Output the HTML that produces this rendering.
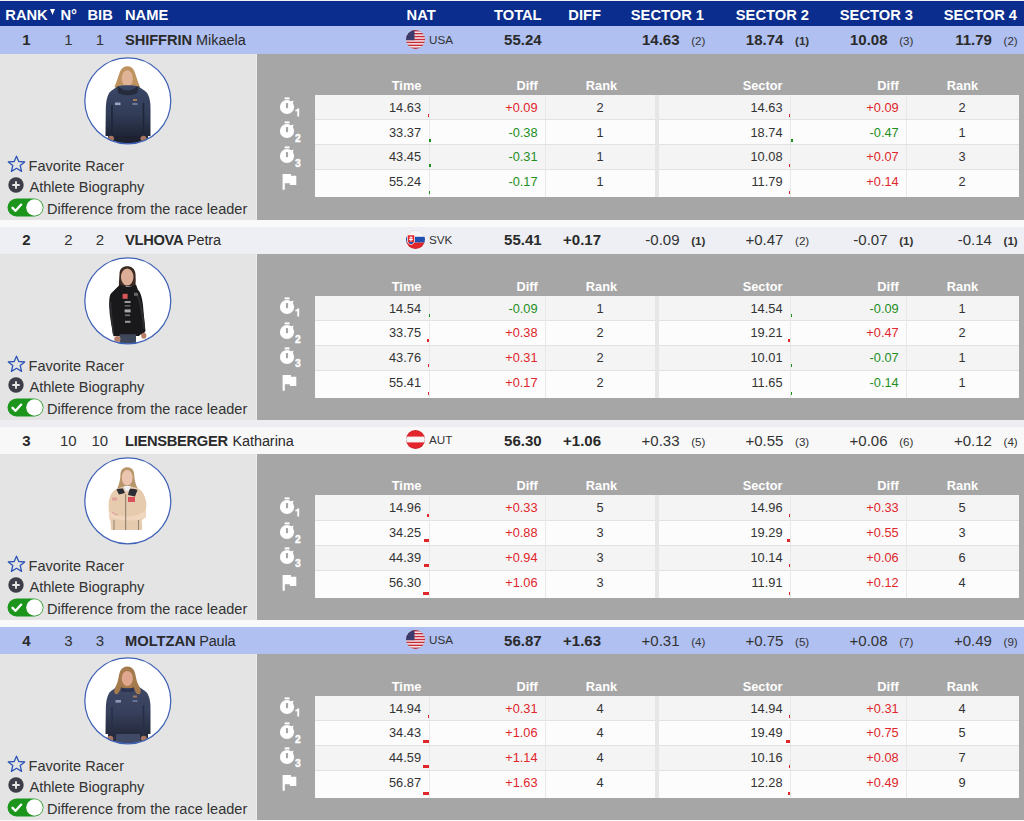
<!DOCTYPE html>
<html><head><meta charset="utf-8"><style>
html,body{margin:0;padding:0;}
body{width:1024px;height:821px;position:relative;overflow:hidden;background:#fafafa;font-family:"Liberation Sans",sans-serif;}
.t{position:absolute;white-space:nowrap;line-height:normal;}
.r{position:absolute;}
</style></head><body>
<div class="r" style="left:0.00px;top:0.00px;width:1024.00px;height:1.10px;background:#eef0f5;"></div>
<div class="r" style="left:0.00px;top:1.10px;width:1024.00px;height:25.00px;background:#0a2d8e;"></div>
<div class="t" style="left:5.30px;top:6.60px;font-size:14.7px;font-weight:bold;color:#fff;">RANK</div>
<svg class="r" style="left:49.6px;top:9.2px" width="5" height="6"><path d="M0 0H5L2.5 6Z" fill="#fff"/></svg>
<div class="t" style="left:60.50px;top:6.60px;font-size:14.7px;font-weight:bold;color:#fff;">N°</div>
<div class="t" style="left:87.50px;top:6.60px;font-size:14.7px;font-weight:bold;color:#fff;">BIB</div>
<div class="t" style="left:125.00px;top:6.60px;font-size:14.7px;font-weight:bold;color:#fff;">NAME</div>
<div class="t" style="left:406.60px;top:6.60px;font-size:14.7px;font-weight:bold;color:#fff;">NAT</div>
<div class="t" style="left:241.60px;width:300px;text-align:right;top:6.60px;font-size:14.7px;font-weight:bold;color:#fff;">TOTAL</div>
<div class="t" style="left:301.00px;width:300px;text-align:right;top:6.60px;font-size:14.7px;font-weight:bold;color:#fff;">DIFF</div>
<div class="t" style="left:404.00px;width:300px;text-align:right;top:6.60px;font-size:14.7px;font-weight:bold;color:#fff;">SECTOR 1</div>
<div class="t" style="left:509.00px;width:300px;text-align:right;top:6.60px;font-size:14.7px;font-weight:bold;color:#fff;">SECTOR 2</div>
<div class="t" style="left:613.00px;width:300px;text-align:right;top:6.60px;font-size:14.7px;font-weight:bold;color:#fff;">SECTOR 3</div>
<div class="t" style="left:717.00px;width:300px;text-align:right;top:6.60px;font-size:14.7px;font-weight:bold;color:#fff;">SECTOR 4</div>
<div class="r" style="left:0.00px;top:26.10px;width:1024.00px;height:27.75px;background:#b0c0f1;"></div>
<div class="r" style="left:0.00px;top:53.85px;width:257.00px;height:165.85px;background:#e4e4e4;"></div>
<div class="r" style="left:256.00px;top:53.85px;width:1.20px;height:165.85px;background:#ececec;"></div>
<div class="r" style="left:257.20px;top:53.85px;width:766.80px;height:165.85px;background:#a6a6a6;"></div>
<div class="r" style="left:0.00px;top:219.70px;width:1024.00px;height:7.30px;background:#f9f9fa;"></div>
<div class="t" style="left:-123.60px;width:300px;text-align:center;top:31.20px;font-size:15px;font-weight:bold;color:#2a2a2a;">1</div>
<div class="t" style="left:-81.70px;width:300px;text-align:center;top:31.20px;font-size:15px;color:#333;">1</div>
<div class="t" style="left:-50.20px;width:300px;text-align:center;top:31.20px;font-size:15px;color:#333;">1</div>
<div class="t" style="left:125.00px;top:32.20px;font-size:14.7px;font-weight:bold;color:#2a2a2a;letter-spacing:-0.1px">SHIFFRIN</div>
<div class="t" style="left:196.10px;top:32.20px;font-size:14.45px;color:#2a2a2a;letter-spacing:0px">Mikaela</div>
<svg class="r" style="left:406.30px;top:29.80px" width="19" height="19" viewBox="0 0 19 19"><defs><clipPath id="cUSA39"><circle cx="9.5" cy="9.5" r="9.5"/></clipPath></defs><g clip-path="url(#cUSA39)"><rect width="19" height="19" fill="#f4f4f4"/><rect x="0" y="0.00" width="19" height="1.46" fill="#c8283a"/><rect x="0" y="2.92" width="19" height="1.46" fill="#c8283a"/><rect x="0" y="5.85" width="19" height="1.46" fill="#c8283a"/><rect x="0" y="8.77" width="19" height="1.46" fill="#c8283a"/><rect x="0" y="11.69" width="19" height="1.46" fill="#c8283a"/><rect x="0" y="14.62" width="19" height="1.46" fill="#c8283a"/><rect x="0" y="17.54" width="19" height="1.46" fill="#c8283a"/><rect width="8.5" height="10.2" fill="#3c3b6e"/></g><circle cx="9.5" cy="9.5" r="9.2" fill="none" stroke="rgba(0,0,0,.12)" stroke-width=".6"/></svg>
<div class="t" style="left:429.00px;top:32.60px;font-size:11.7px;color:#333;">USA</div>
<div class="t" style="left:241.60px;width:300px;text-align:right;top:31.20px;font-size:15px;font-weight:bold;color:#2a2a2a;">55.24</div>
<div class="t" style="left:405.30px;width:300px;text-align:right;top:34.20px;font-size:11.6px;color:#333;">(2)</div>
<div class="t" style="left:379.50px;width:300px;text-align:right;top:31.20px;font-size:15px;font-weight:bold;color:#2a2a2a;">14.63</div>
<div class="t" style="left:509.20px;width:300px;text-align:right;top:34.20px;font-size:11.6px;font-weight:bold;color:#333;">(1)</div>
<div class="t" style="left:483.40px;width:300px;text-align:right;top:31.20px;font-size:15px;font-weight:bold;color:#2a2a2a;">18.74</div>
<div class="t" style="left:613.30px;width:300px;text-align:right;top:34.20px;font-size:11.6px;color:#333;">(3)</div>
<div class="t" style="left:587.50px;width:300px;text-align:right;top:31.20px;font-size:15px;font-weight:bold;color:#2a2a2a;">10.08</div>
<div class="t" style="left:717.70px;width:300px;text-align:right;top:34.20px;font-size:11.6px;color:#333;">(2)</div>
<div class="t" style="left:691.90px;width:300px;text-align:right;top:31.20px;font-size:15px;font-weight:bold;color:#2a2a2a;">11.79</div>
<svg class="r" style="left:84.20px;top:57.30px" width="87.6" height="87.6" viewBox="0 0 87.6 87.6"><defs><clipPath id="ph0"><circle cx="43.8" cy="43.8" r="42.8"/></clipPath></defs><circle cx="43.8" cy="43.8" r="43.0" fill="#fff"/><g clip-path="url(#ph0)"><defs><linearGradient id="gj0" x1="0" y1="0" x2="0" y2="1"><stop offset="0" stop-color="#3a4767"/><stop offset=".55" stop-color="#323d58"/><stop offset="1" stop-color="#1f2536"/></linearGradient></defs><path d="M36 14.5C37.5 11 40.5 9.3 43.3 9.3C46.5 9.3 49.2 11 50.5 14.5C52 18.5 53.5 24 56 30L52 33H35L30.5 30C33 24 34.5 18.5 36 14.5Z" fill="#bf935f"/><ellipse cx="43.3" cy="21.5" rx="5.6" ry="8.2" fill="#e0b296"/><path d="M33.5 29.5C37 28.5 40 28.3 43.5 28.3C47 28.3 50.5 28.5 54.5 29.5L61 34C65 37 66.5 43 66.5 52L66.5 79H21.5L21.8 52C22 43 23.5 37 27 34Z" fill="url(#gj0)"/><path d="M33.5 29C37 31.5 40 33.5 43.5 33.5C47 33.5 50.5 31.5 54.5 29L53.5 36C50 37.5 47 38.2 43.5 38.2C40 38.2 37 37.5 34 36Z" fill="#262c3c"/><path d="M28 48V79M59.5 46V79" stroke="#20263a" stroke-width="1.6"/><path d="M24 79H64V88H24Z" fill="#1d2130"/><ellipse cx="27" cy="81.5" rx="3" ry="2.8" fill="#a87660"/><ellipse cx="59.5" cy="81.5" rx="3" ry="2.8" fill="#a87660"/><rect x="31" y="45.5" width="5.5" height="2.6" fill="#9aa3c0"/><rect x="49" y="42" width="4" height="2" fill="#a07a5a"/><rect x="48.5" y="46" width="5" height="2" fill="#6f789a"/></g><circle cx="43.8" cy="43.8" r="43.0" fill="none" stroke="#4062b6" stroke-width="1.25"/></svg>
<svg class="r" style="left:7.00px;top:154.90px" width="19" height="18" viewBox="0 0 19 18"><path d="M9.5 1.2L11.8 6.5L17.7 6.9L13.2 10.6L14.6 16.4L9.5 13.3L4.4 16.4L5.8 10.6L1.3 6.9L7.2 6.5Z" fill="none" stroke="#2c53b5" stroke-width="1.3" stroke-linejoin="round"/></svg>
<div class="t" style="left:28.60px;top:157.60px;font-size:14.55px;color:#333;">Favorite Racer</div>
<svg class="r" style="left:8.20px;top:177.10px" width="16" height="16" viewBox="0 0 16 16"><circle cx="8" cy="8" r="7.7" fill="#3c3d48"/><path d="M8 4.3V11.7M4.3 8H11.7" stroke="#e6e6e6" stroke-width="1.9"/></svg>
<div class="t" style="left:29.50px;top:179.30px;font-size:14.55px;color:#333;">Athlete Biography</div>
<svg class="r" style="left:7.20px;top:197.70px" width="37" height="19" viewBox="0 0 37 19"><rect x="0.5" y="0.5" width="36" height="18" rx="9" fill="#1b951b"/><circle cx="27.5" cy="9.5" r="8.3" fill="#fff"/><path d="M5.5 9.8L8.6 12.8L14.2 6.6" fill="none" stroke="#fff" stroke-width="2.3" stroke-linecap="round" stroke-linejoin="round"/></svg>
<div class="t" style="left:47.00px;top:201.10px;font-size:14.55px;color:#333;">Difference from the race leader</div>
<div class="t" style="left:121.40px;width:300px;text-align:right;top:77.80px;font-size:12.8px;font-weight:bold;color:#fff;">Time</div>
<div class="t" style="left:237.90px;width:300px;text-align:right;top:77.80px;font-size:12.8px;font-weight:bold;color:#fff;">Diff</div>
<div class="t" style="left:451.50px;width:300px;text-align:center;top:77.80px;font-size:12.8px;font-weight:bold;color:#fff;">Rank</div>
<div class="t" style="left:482.50px;width:300px;text-align:right;top:77.80px;font-size:12.8px;font-weight:bold;color:#fff;">Sector</div>
<div class="t" style="left:598.70px;width:300px;text-align:right;top:77.80px;font-size:12.8px;font-weight:bold;color:#fff;">Diff</div>
<div class="t" style="left:812.50px;width:300px;text-align:center;top:77.80px;font-size:12.8px;font-weight:bold;color:#fff;">Rank</div>
<div class="r" style="left:314.50px;top:94.80px;width:340.00px;height:24.80px;background:#f4f4f4;"></div>
<div class="r" style="left:659.00px;top:94.80px;width:359.70px;height:24.80px;background:#f4f4f4;"></div>
<div class="r" style="left:428.90px;top:94.80px;width:1.00px;height:24.80px;background:#e8e8e8;"></div>
<div class="r" style="left:545.00px;top:94.80px;width:1.00px;height:24.80px;background:#e8e8e8;"></div>
<div class="r" style="left:790.00px;top:94.80px;width:1.00px;height:24.80px;background:#e8e8e8;"></div>
<div class="r" style="left:906.00px;top:94.80px;width:1.00px;height:24.80px;background:#e8e8e8;"></div>
<div class="t" style="left:121.00px;width:300px;text-align:right;top:99.70px;font-size:12.8px;color:#333;">14.63</div>
<div class="t" style="left:237.60px;width:300px;text-align:right;top:99.70px;font-size:12.8px;color:#e0262b;">+0.09</div>
<div class="t" style="left:450.00px;width:300px;text-align:center;top:99.70px;font-size:12.8px;color:#333;">2</div>
<div class="t" style="left:482.50px;width:300px;text-align:right;top:99.70px;font-size:12.8px;color:#333;">14.63</div>
<div class="t" style="left:598.70px;width:300px;text-align:right;top:99.70px;font-size:12.8px;color:#e0262b;">+0.09</div>
<div class="t" style="left:812.00px;width:300px;text-align:center;top:99.70px;font-size:12.8px;color:#333;">2</div>
<div class="r" style="left:428.00px;top:113.60px;width:1.20px;height:3.00px;background:#e0262b;"></div>
<div class="r" style="left:789.30px;top:113.60px;width:1.20px;height:3.00px;background:#e0262b;"></div>
<div class="r" style="left:314.50px;top:119.60px;width:340.00px;height:25.00px;background:#fcfcfc;"></div>
<div class="r" style="left:659.00px;top:119.60px;width:359.70px;height:25.00px;background:#fcfcfc;"></div>
<div class="r" style="left:314.50px;top:119.10px;width:340.00px;height:1.00px;background:#e2e2e2;"></div>
<div class="r" style="left:659.00px;top:119.10px;width:359.70px;height:1.00px;background:#e2e2e2;"></div>
<div class="r" style="left:428.90px;top:119.60px;width:1.00px;height:25.00px;background:#e8e8e8;"></div>
<div class="r" style="left:545.00px;top:119.60px;width:1.00px;height:25.00px;background:#e8e8e8;"></div>
<div class="r" style="left:790.00px;top:119.60px;width:1.00px;height:25.00px;background:#e8e8e8;"></div>
<div class="r" style="left:906.00px;top:119.60px;width:1.00px;height:25.00px;background:#e8e8e8;"></div>
<div class="t" style="left:121.00px;width:300px;text-align:right;top:124.50px;font-size:12.8px;color:#333;">33.37</div>
<div class="t" style="left:237.60px;width:300px;text-align:right;top:124.50px;font-size:12.8px;color:#1f8f1f;">-0.38</div>
<div class="t" style="left:450.00px;width:300px;text-align:center;top:124.50px;font-size:12.8px;color:#333;">1</div>
<div class="t" style="left:482.50px;width:300px;text-align:right;top:124.50px;font-size:12.8px;color:#333;">18.74</div>
<div class="t" style="left:598.70px;width:300px;text-align:right;top:124.50px;font-size:12.8px;color:#1f8f1f;">-0.47</div>
<div class="t" style="left:812.00px;width:300px;text-align:center;top:124.50px;font-size:12.8px;color:#333;">1</div>
<div class="r" style="left:429.20px;top:138.60px;width:2.09px;height:3.00px;background:#1f8f1f;"></div>
<div class="r" style="left:790.50px;top:138.60px;width:2.58px;height:3.00px;background:#1f8f1f;"></div>
<div class="r" style="left:314.50px;top:144.60px;width:340.00px;height:25.00px;background:#f4f4f4;"></div>
<div class="r" style="left:659.00px;top:144.60px;width:359.70px;height:25.00px;background:#f4f4f4;"></div>
<div class="r" style="left:314.50px;top:144.10px;width:340.00px;height:1.00px;background:#e2e2e2;"></div>
<div class="r" style="left:659.00px;top:144.10px;width:359.70px;height:1.00px;background:#e2e2e2;"></div>
<div class="r" style="left:428.90px;top:144.60px;width:1.00px;height:25.00px;background:#e8e8e8;"></div>
<div class="r" style="left:545.00px;top:144.60px;width:1.00px;height:25.00px;background:#e8e8e8;"></div>
<div class="r" style="left:790.00px;top:144.60px;width:1.00px;height:25.00px;background:#e8e8e8;"></div>
<div class="r" style="left:906.00px;top:144.60px;width:1.00px;height:25.00px;background:#e8e8e8;"></div>
<div class="t" style="left:121.00px;width:300px;text-align:right;top:149.20px;font-size:12.8px;color:#333;">43.45</div>
<div class="t" style="left:237.60px;width:300px;text-align:right;top:149.20px;font-size:12.8px;color:#1f8f1f;">-0.31</div>
<div class="t" style="left:450.00px;width:300px;text-align:center;top:149.20px;font-size:12.8px;color:#333;">1</div>
<div class="t" style="left:482.50px;width:300px;text-align:right;top:149.20px;font-size:12.8px;color:#333;">10.08</div>
<div class="t" style="left:598.70px;width:300px;text-align:right;top:149.20px;font-size:12.8px;color:#e0262b;">+0.07</div>
<div class="t" style="left:812.00px;width:300px;text-align:center;top:149.20px;font-size:12.8px;color:#333;">3</div>
<div class="r" style="left:429.20px;top:163.60px;width:1.71px;height:3.00px;background:#1f8f1f;"></div>
<div class="r" style="left:789.30px;top:163.60px;width:1.20px;height:3.00px;background:#e0262b;"></div>
<div class="r" style="left:314.50px;top:169.60px;width:340.00px;height:27.50px;background:#fcfcfc;"></div>
<div class="r" style="left:659.00px;top:169.60px;width:359.70px;height:27.50px;background:#fcfcfc;"></div>
<div class="r" style="left:314.50px;top:169.10px;width:340.00px;height:1.00px;background:#e2e2e2;"></div>
<div class="r" style="left:659.00px;top:169.10px;width:359.70px;height:1.00px;background:#e2e2e2;"></div>
<div class="r" style="left:428.90px;top:169.60px;width:1.00px;height:27.50px;background:#e8e8e8;"></div>
<div class="r" style="left:545.00px;top:169.60px;width:1.00px;height:27.50px;background:#e8e8e8;"></div>
<div class="r" style="left:790.00px;top:169.60px;width:1.00px;height:27.50px;background:#e8e8e8;"></div>
<div class="r" style="left:906.00px;top:169.60px;width:1.00px;height:27.50px;background:#e8e8e8;"></div>
<div class="t" style="left:121.00px;width:300px;text-align:right;top:174.40px;font-size:12.8px;color:#333;">55.24</div>
<div class="t" style="left:237.60px;width:300px;text-align:right;top:174.40px;font-size:12.8px;color:#1f8f1f;">-0.17</div>
<div class="t" style="left:450.00px;width:300px;text-align:center;top:174.40px;font-size:12.8px;color:#333;">1</div>
<div class="t" style="left:482.50px;width:300px;text-align:right;top:174.40px;font-size:12.8px;color:#333;">11.79</div>
<div class="t" style="left:598.70px;width:300px;text-align:right;top:174.40px;font-size:12.8px;color:#e0262b;">+0.14</div>
<div class="t" style="left:812.00px;width:300px;text-align:center;top:174.40px;font-size:12.8px;color:#333;">2</div>
<div class="r" style="left:429.20px;top:191.10px;width:1.20px;height:3.00px;background:#1f8f1f;"></div>
<div class="r" style="left:789.30px;top:191.10px;width:1.20px;height:3.00px;background:#e0262b;"></div>
<div class="r" style="left:654.50px;top:94.80px;width:4.50px;height:102.30px;background:#e6e6e6;"></div>
<svg class="r" style="left:277.90px;top:95.50px" width="24" height="22" viewBox="0 0 24 22"><rect x="6.7" y="1.4" width="4.8" height="2" fill="#fff"/><circle cx="9" cy="11" r="7.1" fill="#fff"/><rect x="7.9" y="7.1" width="2.2" height="5.1" rx=".6" fill="#a6a6a6"/><path d="M12.8 5.6L15.6 4.4L14.8 7.6Z" fill="#fff"/><path d="M19.4 12.6H21.2V20.5H19.3V15.2H17.2V13.9C18.4 13.9 19.1 13.4 19.4 12.6Z" fill="#fff"/></svg>
<svg class="r" style="left:277.90px;top:120.30px" width="24" height="22" viewBox="0 0 24 22"><rect x="6.7" y="1.4" width="4.8" height="2" fill="#fff"/><circle cx="9" cy="11" r="7.1" fill="#fff"/><rect x="7.9" y="7.1" width="2.2" height="5.1" rx=".6" fill="#a6a6a6"/><path d="M12.8 5.6L15.6 4.4L14.8 7.6Z" fill="#fff"/></svg>
<div class="t" style="left:294.90px;top:132.90px;font-size:10.4px;font-weight:bold;color:#fff;-webkit-text-stroke:0.35px #fff">2</div>
<svg class="r" style="left:277.90px;top:144.90px" width="24" height="22" viewBox="0 0 24 22"><rect x="6.7" y="1.4" width="4.8" height="2" fill="#fff"/><circle cx="9" cy="11" r="7.1" fill="#fff"/><rect x="7.9" y="7.1" width="2.2" height="5.1" rx=".6" fill="#a6a6a6"/><path d="M12.8 5.6L15.6 4.4L14.8 7.6Z" fill="#fff"/></svg>
<div class="t" style="left:294.90px;top:157.50px;font-size:10.4px;font-weight:bold;color:#fff;-webkit-text-stroke:0.35px #fff">3</div>
<svg class="r" style="left:280px;top:171.10px" width="20" height="20" viewBox="280 171.1 20 20"><path d="M282.6 174H291V175.9H296.3V185H289.9V183.3H284.8V189.9H282.6Z" fill="#fff"/></svg>
<div class="r" style="left:0.00px;top:227.00px;width:1024.00px;height:26.85px;background:#eeeff4;"></div>
<div class="r" style="left:0.00px;top:253.85px;width:257.00px;height:165.85px;background:#e4e4e4;"></div>
<div class="r" style="left:256.00px;top:253.85px;width:1.20px;height:165.85px;background:#ececec;"></div>
<div class="r" style="left:257.20px;top:253.85px;width:766.80px;height:165.85px;background:#a6a6a6;"></div>
<div class="r" style="left:0.00px;top:419.70px;width:1024.00px;height:7.30px;background:#ededf2;"></div>
<div class="t" style="left:-123.60px;width:300px;text-align:center;top:231.20px;font-size:15px;font-weight:bold;color:#2a2a2a;">2</div>
<div class="t" style="left:-81.70px;width:300px;text-align:center;top:231.20px;font-size:15px;color:#333;">2</div>
<div class="t" style="left:-50.20px;width:300px;text-align:center;top:231.20px;font-size:15px;color:#333;">2</div>
<div class="t" style="left:125.00px;top:232.20px;font-size:14.7px;font-weight:bold;color:#2a2a2a;letter-spacing:-0.32px">VLHOVA</div>
<div class="t" style="left:187.00px;top:232.20px;font-size:14.45px;color:#2a2a2a;letter-spacing:-0.1px">Petra</div>
<svg class="r" style="left:406.30px;top:229.80px" width="19" height="19" viewBox="0 0 19 19"><defs><clipPath id="cSVK239"><circle cx="9.5" cy="9.5" r="9.5"/></clipPath></defs><g clip-path="url(#cSVK239)"><rect width="19" height="6.8" fill="#f6f6f6"/><rect y="6.8" width="19" height="5.8" fill="#1f4fb0"/><rect y="12.6" width="19" height="6.4" fill="#e2262c"/><path d="M1 4.6H9V10.6C9 12.9 7.2 14.3 5 15.1C2.8 14.3 1 12.9 1 10.6Z" fill="#fff"/><path d="M1.7 5.3H8.3V10.5C8.3 12.4 6.8 13.6 5 14.3C3.2 13.6 1.7 12.4 1.7 10.5Z" fill="#e2262c"/><path d="M2.6 12.6C3.4 11.6 4.2 11.4 5 12C5.8 11.4 6.6 11.6 7.4 12.6C6.8 13.3 5.9 13.8 5 14.2C4.1 13.8 3.2 13.3 2.6 12.6Z" fill="#1f4fb0"/><path d="M5 6.3V11.6M3.4 7.8H6.6M3 9.6H7" stroke="#fff" stroke-width="1"/></g><circle cx="9.5" cy="9.5" r="9.2" fill="none" stroke="rgba(0,0,0,.12)" stroke-width=".6"/></svg>
<div class="t" style="left:429.00px;top:232.60px;font-size:11.7px;color:#333;">SVK</div>
<div class="t" style="left:241.60px;width:300px;text-align:right;top:231.20px;font-size:15px;font-weight:bold;color:#2a2a2a;">55.41</div>
<div class="t" style="left:301.00px;width:300px;text-align:right;top:231.20px;font-size:15px;font-weight:bold;color:#2a2a2a;">+0.17</div>
<div class="t" style="left:405.30px;width:300px;text-align:right;top:234.20px;font-size:11.6px;font-weight:bold;color:#333;">(1)</div>
<div class="t" style="left:379.50px;width:300px;text-align:right;top:231.20px;font-size:15px;color:#333;">-0.09</div>
<div class="t" style="left:509.20px;width:300px;text-align:right;top:234.20px;font-size:11.6px;color:#333;">(2)</div>
<div class="t" style="left:483.40px;width:300px;text-align:right;top:231.20px;font-size:15px;color:#333;">+0.47</div>
<div class="t" style="left:613.30px;width:300px;text-align:right;top:234.20px;font-size:11.6px;font-weight:bold;color:#333;">(1)</div>
<div class="t" style="left:587.50px;width:300px;text-align:right;top:231.20px;font-size:15px;color:#333;">-0.07</div>
<div class="t" style="left:717.70px;width:300px;text-align:right;top:234.20px;font-size:11.6px;font-weight:bold;color:#333;">(1)</div>
<div class="t" style="left:691.90px;width:300px;text-align:right;top:231.20px;font-size:15px;color:#333;">-0.14</div>
<svg class="r" style="left:84.20px;top:257.30px" width="87.6" height="87.6" viewBox="0 0 87.6 87.6"><defs><clipPath id="ph1"><circle cx="43.8" cy="43.8" r="42.8"/></clipPath></defs><circle cx="43.8" cy="43.8" r="43.0" fill="#fff"/><g clip-path="url(#ph1)"><path d="M35.5 17C35.5 11.5 39 9.2 43.2 9.2C47.5 9.2 51.2 11.8 51.5 17C51.8 21 51.8 25 51.5 29H35C34.8 25 35.3 21 35.5 17Z" fill="#3a2a22"/><ellipse cx="43.2" cy="20" rx="6.3" ry="8.6" fill="#dcae98"/><path d="M36 27.5C39 29 42 29.5 44.5 29.5C47.5 29.5 50 28.5 52 27.5L54 33C57 35 59 44 59.5 54L61.5 74L59 77.5H56.5L55 79H31L29.5 79.3C28 70 25.5 60 25.2 50C25 42 25.8 38 27 36.5Z" fill="#19191c"/><path d="M53 38C56.5 44 58.5 55 60 72" stroke="#2c2c30" stroke-width="2.2" fill="none"/><path d="M26.5 45C27 55 28 66 29.5 77" stroke="#2e2e33" stroke-width="1.6" fill="none"/><path d="M35.5 77.2H52V88H35.5Z" fill="#3f475b"/><rect x="38.6" y="36.8" width="5" height="5" fill="#d9555a"/><rect x="50" y="35.8" width="4" height="3" fill="#666"/><rect x="40.6" y="44" width="6" height="2" fill="#9a9a9a"/><rect x="40.8" y="48" width="5.5" height="1.6" fill="#666"/><rect x="40.6" y="52.4" width="6" height="3" fill="#aaa"/><rect x="41" y="57.5" width="5" height="1.6" fill="#777"/><rect x="41" y="63.8" width="5.5" height="2" fill="#999"/><ellipse cx="33.4" cy="82" rx="3.2" ry="3" fill="#b9806c"/><ellipse cx="59.8" cy="78.7" rx="2.6" ry="3" fill="#b9806c"/></g><circle cx="43.8" cy="43.8" r="43.0" fill="none" stroke="#4062b6" stroke-width="1.25"/></svg>
<svg class="r" style="left:7.00px;top:354.90px" width="19" height="18" viewBox="0 0 19 18"><path d="M9.5 1.2L11.8 6.5L17.7 6.9L13.2 10.6L14.6 16.4L9.5 13.3L4.4 16.4L5.8 10.6L1.3 6.9L7.2 6.5Z" fill="none" stroke="#2c53b5" stroke-width="1.3" stroke-linejoin="round"/></svg>
<div class="t" style="left:28.60px;top:357.60px;font-size:14.55px;color:#333;">Favorite Racer</div>
<svg class="r" style="left:8.20px;top:377.10px" width="16" height="16" viewBox="0 0 16 16"><circle cx="8" cy="8" r="7.7" fill="#3c3d48"/><path d="M8 4.3V11.7M4.3 8H11.7" stroke="#e6e6e6" stroke-width="1.9"/></svg>
<div class="t" style="left:29.50px;top:379.30px;font-size:14.55px;color:#333;">Athlete Biography</div>
<svg class="r" style="left:7.20px;top:397.70px" width="37" height="19" viewBox="0 0 37 19"><rect x="0.5" y="0.5" width="36" height="18" rx="9" fill="#1b951b"/><circle cx="27.5" cy="9.5" r="8.3" fill="#fff"/><path d="M5.5 9.8L8.6 12.8L14.2 6.6" fill="none" stroke="#fff" stroke-width="2.3" stroke-linecap="round" stroke-linejoin="round"/></svg>
<div class="t" style="left:47.00px;top:401.10px;font-size:14.55px;color:#333;">Difference from the race leader</div>
<div class="t" style="left:121.40px;width:300px;text-align:right;top:278.60px;font-size:12.8px;font-weight:bold;color:#fff;">Time</div>
<div class="t" style="left:237.90px;width:300px;text-align:right;top:278.60px;font-size:12.8px;font-weight:bold;color:#fff;">Diff</div>
<div class="t" style="left:451.50px;width:300px;text-align:center;top:278.60px;font-size:12.8px;font-weight:bold;color:#fff;">Rank</div>
<div class="t" style="left:482.50px;width:300px;text-align:right;top:278.60px;font-size:12.8px;font-weight:bold;color:#fff;">Sector</div>
<div class="t" style="left:598.70px;width:300px;text-align:right;top:278.60px;font-size:12.8px;font-weight:bold;color:#fff;">Diff</div>
<div class="t" style="left:812.50px;width:300px;text-align:center;top:278.60px;font-size:12.8px;font-weight:bold;color:#fff;">Rank</div>
<div class="r" style="left:314.50px;top:295.60px;width:340.00px;height:24.80px;background:#f4f4f4;"></div>
<div class="r" style="left:659.00px;top:295.60px;width:359.70px;height:24.80px;background:#f4f4f4;"></div>
<div class="r" style="left:428.90px;top:295.60px;width:1.00px;height:24.80px;background:#e8e8e8;"></div>
<div class="r" style="left:545.00px;top:295.60px;width:1.00px;height:24.80px;background:#e8e8e8;"></div>
<div class="r" style="left:790.00px;top:295.60px;width:1.00px;height:24.80px;background:#e8e8e8;"></div>
<div class="r" style="left:906.00px;top:295.60px;width:1.00px;height:24.80px;background:#e8e8e8;"></div>
<div class="t" style="left:121.00px;width:300px;text-align:right;top:300.50px;font-size:12.8px;color:#333;">14.54</div>
<div class="t" style="left:237.60px;width:300px;text-align:right;top:300.50px;font-size:12.8px;color:#1f8f1f;">-0.09</div>
<div class="t" style="left:450.00px;width:300px;text-align:center;top:300.50px;font-size:12.8px;color:#333;">1</div>
<div class="t" style="left:482.50px;width:300px;text-align:right;top:300.50px;font-size:12.8px;color:#333;">14.54</div>
<div class="t" style="left:598.70px;width:300px;text-align:right;top:300.50px;font-size:12.8px;color:#1f8f1f;">-0.09</div>
<div class="t" style="left:812.00px;width:300px;text-align:center;top:300.50px;font-size:12.8px;color:#333;">1</div>
<div class="r" style="left:429.20px;top:314.40px;width:1.20px;height:3.00px;background:#1f8f1f;"></div>
<div class="r" style="left:790.50px;top:314.40px;width:1.20px;height:3.00px;background:#1f8f1f;"></div>
<div class="r" style="left:314.50px;top:320.40px;width:340.00px;height:25.00px;background:#fcfcfc;"></div>
<div class="r" style="left:659.00px;top:320.40px;width:359.70px;height:25.00px;background:#fcfcfc;"></div>
<div class="r" style="left:314.50px;top:319.90px;width:340.00px;height:1.00px;background:#e2e2e2;"></div>
<div class="r" style="left:659.00px;top:319.90px;width:359.70px;height:1.00px;background:#e2e2e2;"></div>
<div class="r" style="left:428.90px;top:320.40px;width:1.00px;height:25.00px;background:#e8e8e8;"></div>
<div class="r" style="left:545.00px;top:320.40px;width:1.00px;height:25.00px;background:#e8e8e8;"></div>
<div class="r" style="left:790.00px;top:320.40px;width:1.00px;height:25.00px;background:#e8e8e8;"></div>
<div class="r" style="left:906.00px;top:320.40px;width:1.00px;height:25.00px;background:#e8e8e8;"></div>
<div class="t" style="left:121.00px;width:300px;text-align:right;top:325.30px;font-size:12.8px;color:#333;">33.75</div>
<div class="t" style="left:237.60px;width:300px;text-align:right;top:325.30px;font-size:12.8px;color:#e0262b;">+0.38</div>
<div class="t" style="left:450.00px;width:300px;text-align:center;top:325.30px;font-size:12.8px;color:#333;">2</div>
<div class="t" style="left:482.50px;width:300px;text-align:right;top:325.30px;font-size:12.8px;color:#333;">19.21</div>
<div class="t" style="left:598.70px;width:300px;text-align:right;top:325.30px;font-size:12.8px;color:#e0262b;">+0.47</div>
<div class="t" style="left:812.00px;width:300px;text-align:center;top:325.30px;font-size:12.8px;color:#333;">2</div>
<div class="r" style="left:427.11px;top:339.40px;width:2.09px;height:3.00px;background:#e0262b;"></div>
<div class="r" style="left:787.91px;top:339.40px;width:2.58px;height:3.00px;background:#e0262b;"></div>
<div class="r" style="left:314.50px;top:345.40px;width:340.00px;height:25.00px;background:#f4f4f4;"></div>
<div class="r" style="left:659.00px;top:345.40px;width:359.70px;height:25.00px;background:#f4f4f4;"></div>
<div class="r" style="left:314.50px;top:344.90px;width:340.00px;height:1.00px;background:#e2e2e2;"></div>
<div class="r" style="left:659.00px;top:344.90px;width:359.70px;height:1.00px;background:#e2e2e2;"></div>
<div class="r" style="left:428.90px;top:345.40px;width:1.00px;height:25.00px;background:#e8e8e8;"></div>
<div class="r" style="left:545.00px;top:345.40px;width:1.00px;height:25.00px;background:#e8e8e8;"></div>
<div class="r" style="left:790.00px;top:345.40px;width:1.00px;height:25.00px;background:#e8e8e8;"></div>
<div class="r" style="left:906.00px;top:345.40px;width:1.00px;height:25.00px;background:#e8e8e8;"></div>
<div class="t" style="left:121.00px;width:300px;text-align:right;top:350.00px;font-size:12.8px;color:#333;">43.76</div>
<div class="t" style="left:237.60px;width:300px;text-align:right;top:350.00px;font-size:12.8px;color:#e0262b;">+0.31</div>
<div class="t" style="left:450.00px;width:300px;text-align:center;top:350.00px;font-size:12.8px;color:#333;">2</div>
<div class="t" style="left:482.50px;width:300px;text-align:right;top:350.00px;font-size:12.8px;color:#333;">10.01</div>
<div class="t" style="left:598.70px;width:300px;text-align:right;top:350.00px;font-size:12.8px;color:#1f8f1f;">-0.07</div>
<div class="t" style="left:812.00px;width:300px;text-align:center;top:350.00px;font-size:12.8px;color:#333;">1</div>
<div class="r" style="left:427.50px;top:364.40px;width:1.71px;height:3.00px;background:#e0262b;"></div>
<div class="r" style="left:790.50px;top:364.40px;width:1.20px;height:3.00px;background:#1f8f1f;"></div>
<div class="r" style="left:314.50px;top:370.40px;width:340.00px;height:27.50px;background:#fcfcfc;"></div>
<div class="r" style="left:659.00px;top:370.40px;width:359.70px;height:27.50px;background:#fcfcfc;"></div>
<div class="r" style="left:314.50px;top:369.90px;width:340.00px;height:1.00px;background:#e2e2e2;"></div>
<div class="r" style="left:659.00px;top:369.90px;width:359.70px;height:1.00px;background:#e2e2e2;"></div>
<div class="r" style="left:428.90px;top:370.40px;width:1.00px;height:27.50px;background:#e8e8e8;"></div>
<div class="r" style="left:545.00px;top:370.40px;width:1.00px;height:27.50px;background:#e8e8e8;"></div>
<div class="r" style="left:790.00px;top:370.40px;width:1.00px;height:27.50px;background:#e8e8e8;"></div>
<div class="r" style="left:906.00px;top:370.40px;width:1.00px;height:27.50px;background:#e8e8e8;"></div>
<div class="t" style="left:121.00px;width:300px;text-align:right;top:375.20px;font-size:12.8px;color:#333;">55.41</div>
<div class="t" style="left:237.60px;width:300px;text-align:right;top:375.20px;font-size:12.8px;color:#e0262b;">+0.17</div>
<div class="t" style="left:450.00px;width:300px;text-align:center;top:375.20px;font-size:12.8px;color:#333;">2</div>
<div class="t" style="left:482.50px;width:300px;text-align:right;top:375.20px;font-size:12.8px;color:#333;">11.65</div>
<div class="t" style="left:598.70px;width:300px;text-align:right;top:375.20px;font-size:12.8px;color:#1f8f1f;">-0.14</div>
<div class="t" style="left:812.00px;width:300px;text-align:center;top:375.20px;font-size:12.8px;color:#333;">1</div>
<div class="r" style="left:428.00px;top:391.90px;width:1.20px;height:3.00px;background:#e0262b;"></div>
<div class="r" style="left:790.50px;top:391.90px;width:1.20px;height:3.00px;background:#1f8f1f;"></div>
<div class="r" style="left:654.50px;top:295.60px;width:4.50px;height:102.30px;background:#e6e6e6;"></div>
<svg class="r" style="left:277.90px;top:296.30px" width="24" height="22" viewBox="0 0 24 22"><rect x="6.7" y="1.4" width="4.8" height="2" fill="#fff"/><circle cx="9" cy="11" r="7.1" fill="#fff"/><rect x="7.9" y="7.1" width="2.2" height="5.1" rx=".6" fill="#a6a6a6"/><path d="M12.8 5.6L15.6 4.4L14.8 7.6Z" fill="#fff"/><path d="M19.4 12.6H21.2V20.5H19.3V15.2H17.2V13.9C18.4 13.9 19.1 13.4 19.4 12.6Z" fill="#fff"/></svg>
<svg class="r" style="left:277.90px;top:321.10px" width="24" height="22" viewBox="0 0 24 22"><rect x="6.7" y="1.4" width="4.8" height="2" fill="#fff"/><circle cx="9" cy="11" r="7.1" fill="#fff"/><rect x="7.9" y="7.1" width="2.2" height="5.1" rx=".6" fill="#a6a6a6"/><path d="M12.8 5.6L15.6 4.4L14.8 7.6Z" fill="#fff"/></svg>
<div class="t" style="left:294.90px;top:333.70px;font-size:10.4px;font-weight:bold;color:#fff;-webkit-text-stroke:0.35px #fff">2</div>
<svg class="r" style="left:277.90px;top:345.70px" width="24" height="22" viewBox="0 0 24 22"><rect x="6.7" y="1.4" width="4.8" height="2" fill="#fff"/><circle cx="9" cy="11" r="7.1" fill="#fff"/><rect x="7.9" y="7.1" width="2.2" height="5.1" rx=".6" fill="#a6a6a6"/><path d="M12.8 5.6L15.6 4.4L14.8 7.6Z" fill="#fff"/></svg>
<div class="t" style="left:294.90px;top:358.30px;font-size:10.4px;font-weight:bold;color:#fff;-webkit-text-stroke:0.35px #fff">3</div>
<svg class="r" style="left:280px;top:371.90px" width="20" height="20" viewBox="280 171.1 20 20"><path d="M282.6 174H291V175.9H296.3V185H289.9V183.3H284.8V189.9H282.6Z" fill="#fff"/></svg>
<div class="r" style="left:0.00px;top:427.00px;width:1024.00px;height:26.85px;background:#f8f8f9;"></div>
<div class="r" style="left:0.00px;top:453.85px;width:257.00px;height:165.85px;background:#e4e4e4;"></div>
<div class="r" style="left:256.00px;top:453.85px;width:1.20px;height:165.85px;background:#ececec;"></div>
<div class="r" style="left:257.20px;top:453.85px;width:766.80px;height:165.85px;background:#a6a6a6;"></div>
<div class="r" style="left:0.00px;top:619.70px;width:1024.00px;height:7.50px;background:#f9f9fa;"></div>
<div class="t" style="left:-123.60px;width:300px;text-align:center;top:431.70px;font-size:15px;font-weight:bold;color:#2a2a2a;">3</div>
<div class="t" style="left:-81.70px;width:300px;text-align:center;top:431.70px;font-size:15px;color:#333;">10</div>
<div class="t" style="left:-50.20px;width:300px;text-align:center;top:431.70px;font-size:15px;color:#333;">10</div>
<div class="t" style="left:125.00px;top:432.70px;font-size:14.7px;font-weight:bold;color:#2a2a2a;letter-spacing:-0.31px">LIENSBERGER</div>
<div class="t" style="left:232.40px;top:432.70px;font-size:14.45px;color:#2a2a2a;letter-spacing:-0.05px">Katharina</div>
<svg class="r" style="left:406.30px;top:429.80px" width="19" height="19" viewBox="0 0 19 19"><defs><clipPath id="cAUT439"><circle cx="9.5" cy="9.5" r="9.5"/></clipPath></defs><g clip-path="url(#cAUT439)"><rect width="19" height="19" fill="#e2262c"/><rect y="6.6" width="19" height="5.8" fill="#f6f6f6"/></g><circle cx="9.5" cy="9.5" r="9.2" fill="none" stroke="rgba(0,0,0,.12)" stroke-width=".6"/></svg>
<div class="t" style="left:429.00px;top:432.60px;font-size:11.7px;color:#333;">AUT</div>
<div class="t" style="left:241.60px;width:300px;text-align:right;top:431.70px;font-size:15px;font-weight:bold;color:#2a2a2a;">56.30</div>
<div class="t" style="left:301.00px;width:300px;text-align:right;top:431.70px;font-size:15px;font-weight:bold;color:#2a2a2a;">+1.06</div>
<div class="t" style="left:405.30px;width:300px;text-align:right;top:434.70px;font-size:11.6px;color:#333;">(5)</div>
<div class="t" style="left:379.50px;width:300px;text-align:right;top:431.70px;font-size:15px;color:#333;">+0.33</div>
<div class="t" style="left:509.20px;width:300px;text-align:right;top:434.70px;font-size:11.6px;color:#333;">(3)</div>
<div class="t" style="left:483.40px;width:300px;text-align:right;top:431.70px;font-size:15px;color:#333;">+0.55</div>
<div class="t" style="left:613.30px;width:300px;text-align:right;top:434.70px;font-size:11.6px;color:#333;">(6)</div>
<div class="t" style="left:587.50px;width:300px;text-align:right;top:431.70px;font-size:15px;color:#333;">+0.06</div>
<div class="t" style="left:717.70px;width:300px;text-align:right;top:434.70px;font-size:11.6px;color:#333;">(4)</div>
<div class="t" style="left:691.90px;width:300px;text-align:right;top:431.70px;font-size:15px;color:#333;">+0.12</div>
<svg class="r" style="left:84.20px;top:457.30px" width="87.6" height="87.6" viewBox="0 0 87.6 87.6"><defs><clipPath id="ph2"><circle cx="43.8" cy="43.8" r="42.8"/></clipPath></defs><circle cx="43.8" cy="43.8" r="43.0" fill="#fff"/><g clip-path="url(#ph2)"><path d="M36.5 17.5C36.5 12.5 39.5 10.3 43.2 10.3C47 10.3 50 12.5 50.2 17.5C50.5 23 51.5 28 54 32H33C35 28 36.3 23 36.5 17.5Z" fill="#b8976c"/><ellipse cx="43.2" cy="20.8" rx="5.4" ry="7.8" fill="#ecc5b0"/><path d="M34 31.5C37 30 40 29.5 43.5 29.5C47 29.5 50.5 30 54 31.5C58 33 61 38 62.4 46L61.5 60.6L57.8 63L58.2 73H27.2L26.3 63L25 60.6L24.6 46C25.5 38 29 33 34 31.5Z" fill="#e6cbae"/><path d="M32.4 32.5C34.5 31.5 37 31.3 39 31.6L41 36L35 37.5Z" fill="#2c2c34"/><path d="M53.5 33C51 31.8 48 31.5 45.5 32L44 38L51 39.5Z" fill="#2c2c34"/><path d="M39.6 29H46.8L45 33.8H41.5Z" fill="#eef0f4"/><rect x="44" y="40" width="7" height="5" fill="#d8505a"/><path d="M25 54C31 58 39 60 46 59.5C53 59 58 56.5 62 52.5L61.5 60.6C56 63 49 64 42 63.5C35 63 29 62 25 60.6Z" fill="#f0d6bc"/><path d="M41.7 37V73" stroke="#7d6e62" stroke-width=".9"/><path d="M30 63V73M54.5 63V73" stroke="#8a7868" stroke-width=".9"/><rect x="28" y="40.5" width="5" height="3" fill="#e3a09c"/><path d="M28 55C30 57 32 58 34 58" stroke="#e0a0a0" stroke-width="1.2" fill="none"/></g><circle cx="43.8" cy="43.8" r="43.0" fill="none" stroke="#4062b6" stroke-width="1.25"/></svg>
<svg class="r" style="left:7.00px;top:554.90px" width="19" height="18" viewBox="0 0 19 18"><path d="M9.5 1.2L11.8 6.5L17.7 6.9L13.2 10.6L14.6 16.4L9.5 13.3L4.4 16.4L5.8 10.6L1.3 6.9L7.2 6.5Z" fill="none" stroke="#2c53b5" stroke-width="1.3" stroke-linejoin="round"/></svg>
<div class="t" style="left:28.60px;top:557.60px;font-size:14.55px;color:#333;">Favorite Racer</div>
<svg class="r" style="left:8.20px;top:577.10px" width="16" height="16" viewBox="0 0 16 16"><circle cx="8" cy="8" r="7.7" fill="#3c3d48"/><path d="M8 4.3V11.7M4.3 8H11.7" stroke="#e6e6e6" stroke-width="1.9"/></svg>
<div class="t" style="left:29.50px;top:579.30px;font-size:14.55px;color:#333;">Athlete Biography</div>
<svg class="r" style="left:7.20px;top:597.70px" width="37" height="19" viewBox="0 0 37 19"><rect x="0.5" y="0.5" width="36" height="18" rx="9" fill="#1b951b"/><circle cx="27.5" cy="9.5" r="8.3" fill="#fff"/><path d="M5.5 9.8L8.6 12.8L14.2 6.6" fill="none" stroke="#fff" stroke-width="2.3" stroke-linecap="round" stroke-linejoin="round"/></svg>
<div class="t" style="left:47.00px;top:601.10px;font-size:14.55px;color:#333;">Difference from the race leader</div>
<div class="t" style="left:121.40px;width:300px;text-align:right;top:478.40px;font-size:12.8px;font-weight:bold;color:#fff;">Time</div>
<div class="t" style="left:237.90px;width:300px;text-align:right;top:478.40px;font-size:12.8px;font-weight:bold;color:#fff;">Diff</div>
<div class="t" style="left:451.50px;width:300px;text-align:center;top:478.40px;font-size:12.8px;font-weight:bold;color:#fff;">Rank</div>
<div class="t" style="left:482.50px;width:300px;text-align:right;top:478.40px;font-size:12.8px;font-weight:bold;color:#fff;">Sector</div>
<div class="t" style="left:598.70px;width:300px;text-align:right;top:478.40px;font-size:12.8px;font-weight:bold;color:#fff;">Diff</div>
<div class="t" style="left:812.50px;width:300px;text-align:center;top:478.40px;font-size:12.8px;font-weight:bold;color:#fff;">Rank</div>
<div class="r" style="left:314.50px;top:495.40px;width:340.00px;height:24.80px;background:#f4f4f4;"></div>
<div class="r" style="left:659.00px;top:495.40px;width:359.70px;height:24.80px;background:#f4f4f4;"></div>
<div class="r" style="left:428.90px;top:495.40px;width:1.00px;height:24.80px;background:#e8e8e8;"></div>
<div class="r" style="left:545.00px;top:495.40px;width:1.00px;height:24.80px;background:#e8e8e8;"></div>
<div class="r" style="left:790.00px;top:495.40px;width:1.00px;height:24.80px;background:#e8e8e8;"></div>
<div class="r" style="left:906.00px;top:495.40px;width:1.00px;height:24.80px;background:#e8e8e8;"></div>
<div class="t" style="left:121.00px;width:300px;text-align:right;top:500.30px;font-size:12.8px;color:#333;">14.96</div>
<div class="t" style="left:237.60px;width:300px;text-align:right;top:500.30px;font-size:12.8px;color:#e0262b;">+0.33</div>
<div class="t" style="left:450.00px;width:300px;text-align:center;top:500.30px;font-size:12.8px;color:#333;">5</div>
<div class="t" style="left:482.50px;width:300px;text-align:right;top:500.30px;font-size:12.8px;color:#333;">14.96</div>
<div class="t" style="left:598.70px;width:300px;text-align:right;top:500.30px;font-size:12.8px;color:#e0262b;">+0.33</div>
<div class="t" style="left:812.00px;width:300px;text-align:center;top:500.30px;font-size:12.8px;color:#333;">5</div>
<div class="r" style="left:427.38px;top:514.20px;width:1.82px;height:3.00px;background:#e0262b;"></div>
<div class="r" style="left:788.68px;top:514.20px;width:1.82px;height:3.00px;background:#e0262b;"></div>
<div class="r" style="left:314.50px;top:520.20px;width:340.00px;height:25.00px;background:#fcfcfc;"></div>
<div class="r" style="left:659.00px;top:520.20px;width:359.70px;height:25.00px;background:#fcfcfc;"></div>
<div class="r" style="left:314.50px;top:519.70px;width:340.00px;height:1.00px;background:#e2e2e2;"></div>
<div class="r" style="left:659.00px;top:519.70px;width:359.70px;height:1.00px;background:#e2e2e2;"></div>
<div class="r" style="left:428.90px;top:520.20px;width:1.00px;height:25.00px;background:#e8e8e8;"></div>
<div class="r" style="left:545.00px;top:520.20px;width:1.00px;height:25.00px;background:#e8e8e8;"></div>
<div class="r" style="left:790.00px;top:520.20px;width:1.00px;height:25.00px;background:#e8e8e8;"></div>
<div class="r" style="left:906.00px;top:520.20px;width:1.00px;height:25.00px;background:#e8e8e8;"></div>
<div class="t" style="left:121.00px;width:300px;text-align:right;top:525.10px;font-size:12.8px;color:#333;">34.25</div>
<div class="t" style="left:237.60px;width:300px;text-align:right;top:525.10px;font-size:12.8px;color:#e0262b;">+0.88</div>
<div class="t" style="left:450.00px;width:300px;text-align:center;top:525.10px;font-size:12.8px;color:#333;">3</div>
<div class="t" style="left:482.50px;width:300px;text-align:right;top:525.10px;font-size:12.8px;color:#333;">19.29</div>
<div class="t" style="left:598.70px;width:300px;text-align:right;top:525.10px;font-size:12.8px;color:#e0262b;">+0.55</div>
<div class="t" style="left:812.00px;width:300px;text-align:center;top:525.10px;font-size:12.8px;color:#333;">3</div>
<div class="r" style="left:424.36px;top:539.20px;width:4.84px;height:3.00px;background:#e0262b;"></div>
<div class="r" style="left:787.48px;top:539.20px;width:3.03px;height:3.00px;background:#e0262b;"></div>
<div class="r" style="left:314.50px;top:545.20px;width:340.00px;height:25.00px;background:#f4f4f4;"></div>
<div class="r" style="left:659.00px;top:545.20px;width:359.70px;height:25.00px;background:#f4f4f4;"></div>
<div class="r" style="left:314.50px;top:544.70px;width:340.00px;height:1.00px;background:#e2e2e2;"></div>
<div class="r" style="left:659.00px;top:544.70px;width:359.70px;height:1.00px;background:#e2e2e2;"></div>
<div class="r" style="left:428.90px;top:545.20px;width:1.00px;height:25.00px;background:#e8e8e8;"></div>
<div class="r" style="left:545.00px;top:545.20px;width:1.00px;height:25.00px;background:#e8e8e8;"></div>
<div class="r" style="left:790.00px;top:545.20px;width:1.00px;height:25.00px;background:#e8e8e8;"></div>
<div class="r" style="left:906.00px;top:545.20px;width:1.00px;height:25.00px;background:#e8e8e8;"></div>
<div class="t" style="left:121.00px;width:300px;text-align:right;top:549.80px;font-size:12.8px;color:#333;">44.39</div>
<div class="t" style="left:237.60px;width:300px;text-align:right;top:549.80px;font-size:12.8px;color:#e0262b;">+0.94</div>
<div class="t" style="left:450.00px;width:300px;text-align:center;top:549.80px;font-size:12.8px;color:#333;">3</div>
<div class="t" style="left:482.50px;width:300px;text-align:right;top:549.80px;font-size:12.8px;color:#333;">10.14</div>
<div class="t" style="left:598.70px;width:300px;text-align:right;top:549.80px;font-size:12.8px;color:#e0262b;">+0.06</div>
<div class="t" style="left:812.00px;width:300px;text-align:center;top:549.80px;font-size:12.8px;color:#333;">6</div>
<div class="r" style="left:424.03px;top:564.20px;width:5.17px;height:3.00px;background:#e0262b;"></div>
<div class="r" style="left:789.30px;top:564.20px;width:1.20px;height:3.00px;background:#e0262b;"></div>
<div class="r" style="left:314.50px;top:570.20px;width:340.00px;height:27.50px;background:#fcfcfc;"></div>
<div class="r" style="left:659.00px;top:570.20px;width:359.70px;height:27.50px;background:#fcfcfc;"></div>
<div class="r" style="left:314.50px;top:569.70px;width:340.00px;height:1.00px;background:#e2e2e2;"></div>
<div class="r" style="left:659.00px;top:569.70px;width:359.70px;height:1.00px;background:#e2e2e2;"></div>
<div class="r" style="left:428.90px;top:570.20px;width:1.00px;height:27.50px;background:#e8e8e8;"></div>
<div class="r" style="left:545.00px;top:570.20px;width:1.00px;height:27.50px;background:#e8e8e8;"></div>
<div class="r" style="left:790.00px;top:570.20px;width:1.00px;height:27.50px;background:#e8e8e8;"></div>
<div class="r" style="left:906.00px;top:570.20px;width:1.00px;height:27.50px;background:#e8e8e8;"></div>
<div class="t" style="left:121.00px;width:300px;text-align:right;top:575.00px;font-size:12.8px;color:#333;">56.30</div>
<div class="t" style="left:237.60px;width:300px;text-align:right;top:575.00px;font-size:12.8px;color:#e0262b;">+1.06</div>
<div class="t" style="left:450.00px;width:300px;text-align:center;top:575.00px;font-size:12.8px;color:#333;">3</div>
<div class="t" style="left:482.50px;width:300px;text-align:right;top:575.00px;font-size:12.8px;color:#333;">11.91</div>
<div class="t" style="left:598.70px;width:300px;text-align:right;top:575.00px;font-size:12.8px;color:#e0262b;">+0.12</div>
<div class="t" style="left:812.00px;width:300px;text-align:center;top:575.00px;font-size:12.8px;color:#333;">4</div>
<div class="r" style="left:423.37px;top:591.70px;width:5.83px;height:3.00px;background:#e0262b;"></div>
<div class="r" style="left:789.30px;top:591.70px;width:1.20px;height:3.00px;background:#e0262b;"></div>
<div class="r" style="left:654.50px;top:495.40px;width:4.50px;height:102.30px;background:#e6e6e6;"></div>
<svg class="r" style="left:277.90px;top:496.10px" width="24" height="22" viewBox="0 0 24 22"><rect x="6.7" y="1.4" width="4.8" height="2" fill="#fff"/><circle cx="9" cy="11" r="7.1" fill="#fff"/><rect x="7.9" y="7.1" width="2.2" height="5.1" rx=".6" fill="#a6a6a6"/><path d="M12.8 5.6L15.6 4.4L14.8 7.6Z" fill="#fff"/><path d="M19.4 12.6H21.2V20.5H19.3V15.2H17.2V13.9C18.4 13.9 19.1 13.4 19.4 12.6Z" fill="#fff"/></svg>
<svg class="r" style="left:277.90px;top:520.90px" width="24" height="22" viewBox="0 0 24 22"><rect x="6.7" y="1.4" width="4.8" height="2" fill="#fff"/><circle cx="9" cy="11" r="7.1" fill="#fff"/><rect x="7.9" y="7.1" width="2.2" height="5.1" rx=".6" fill="#a6a6a6"/><path d="M12.8 5.6L15.6 4.4L14.8 7.6Z" fill="#fff"/></svg>
<div class="t" style="left:294.90px;top:533.50px;font-size:10.4px;font-weight:bold;color:#fff;-webkit-text-stroke:0.35px #fff">2</div>
<svg class="r" style="left:277.90px;top:545.50px" width="24" height="22" viewBox="0 0 24 22"><rect x="6.7" y="1.4" width="4.8" height="2" fill="#fff"/><circle cx="9" cy="11" r="7.1" fill="#fff"/><rect x="7.9" y="7.1" width="2.2" height="5.1" rx=".6" fill="#a6a6a6"/><path d="M12.8 5.6L15.6 4.4L14.8 7.6Z" fill="#fff"/></svg>
<div class="t" style="left:294.90px;top:558.10px;font-size:10.4px;font-weight:bold;color:#fff;-webkit-text-stroke:0.35px #fff">3</div>
<svg class="r" style="left:280px;top:571.70px" width="20" height="20" viewBox="280 171.1 20 20"><path d="M282.6 174H291V175.9H296.3V185H289.9V183.3H284.8V189.9H282.6Z" fill="#fff"/></svg>
<div class="r" style="left:0.00px;top:627.20px;width:1024.00px;height:26.65px;background:#b0c0f1;"></div>
<div class="r" style="left:0.00px;top:653.85px;width:257.00px;height:165.85px;background:#e4e4e4;"></div>
<div class="r" style="left:256.00px;top:653.85px;width:1.20px;height:165.85px;background:#ececec;"></div>
<div class="r" style="left:257.20px;top:653.85px;width:766.80px;height:165.85px;background:#a6a6a6;"></div>
<div class="t" style="left:-123.60px;width:300px;text-align:center;top:632.20px;font-size:15px;font-weight:bold;color:#2a2a2a;">4</div>
<div class="t" style="left:-81.70px;width:300px;text-align:center;top:632.20px;font-size:15px;color:#333;">3</div>
<div class="t" style="left:-50.20px;width:300px;text-align:center;top:632.20px;font-size:15px;color:#333;">3</div>
<div class="t" style="left:125.00px;top:633.20px;font-size:14.7px;font-weight:bold;color:#2a2a2a;letter-spacing:0px">MOLTZAN</div>
<div class="t" style="left:199.30px;top:633.20px;font-size:14.45px;color:#2a2a2a;letter-spacing:-0.2px">Paula</div>
<svg class="r" style="left:406.30px;top:629.80px" width="19" height="19" viewBox="0 0 19 19"><defs><clipPath id="cUSA639"><circle cx="9.5" cy="9.5" r="9.5"/></clipPath></defs><g clip-path="url(#cUSA639)"><rect width="19" height="19" fill="#f4f4f4"/><rect x="0" y="0.00" width="19" height="1.46" fill="#c8283a"/><rect x="0" y="2.92" width="19" height="1.46" fill="#c8283a"/><rect x="0" y="5.85" width="19" height="1.46" fill="#c8283a"/><rect x="0" y="8.77" width="19" height="1.46" fill="#c8283a"/><rect x="0" y="11.69" width="19" height="1.46" fill="#c8283a"/><rect x="0" y="14.62" width="19" height="1.46" fill="#c8283a"/><rect x="0" y="17.54" width="19" height="1.46" fill="#c8283a"/><rect width="8.5" height="10.2" fill="#3c3b6e"/></g><circle cx="9.5" cy="9.5" r="9.2" fill="none" stroke="rgba(0,0,0,.12)" stroke-width=".6"/></svg>
<div class="t" style="left:429.00px;top:632.60px;font-size:11.7px;color:#333;">USA</div>
<div class="t" style="left:241.60px;width:300px;text-align:right;top:632.20px;font-size:15px;font-weight:bold;color:#2a2a2a;">56.87</div>
<div class="t" style="left:301.00px;width:300px;text-align:right;top:632.20px;font-size:15px;font-weight:bold;color:#2a2a2a;">+1.63</div>
<div class="t" style="left:405.30px;width:300px;text-align:right;top:635.20px;font-size:11.6px;color:#333;">(4)</div>
<div class="t" style="left:379.50px;width:300px;text-align:right;top:632.20px;font-size:15px;color:#333;">+0.31</div>
<div class="t" style="left:509.20px;width:300px;text-align:right;top:635.20px;font-size:11.6px;color:#333;">(5)</div>
<div class="t" style="left:483.40px;width:300px;text-align:right;top:632.20px;font-size:15px;color:#333;">+0.75</div>
<div class="t" style="left:613.30px;width:300px;text-align:right;top:635.20px;font-size:11.6px;color:#333;">(7)</div>
<div class="t" style="left:587.50px;width:300px;text-align:right;top:632.20px;font-size:15px;color:#333;">+0.08</div>
<div class="t" style="left:717.70px;width:300px;text-align:right;top:635.20px;font-size:11.6px;color:#333;">(9)</div>
<div class="t" style="left:691.90px;width:300px;text-align:right;top:632.20px;font-size:15px;color:#333;">+0.49</div>
<svg class="r" style="left:84.20px;top:657.30px" width="87.6" height="87.6" viewBox="0 0 87.6 87.6"><defs><clipPath id="ph3"><circle cx="43.8" cy="43.8" r="42.8"/></clipPath></defs><circle cx="43.8" cy="43.8" r="43.0" fill="#fff"/><g clip-path="url(#ph3)"><defs><linearGradient id="gj3" x1="0" y1="0" x2="0" y2="1"><stop offset="0" stop-color="#3f4966"/><stop offset=".55" stop-color="#37405c"/><stop offset="1" stop-color="#252b3d"/></linearGradient></defs><path d="M33.5 29.5C37 28.5 40 28.3 43.5 28.3C47 28.3 50.5 28.5 54.5 29.5L61 34C65 37 66.5 43 66.5 52L66.5 77H21.5L21.8 52C22 43 23.5 37 27 34Z" fill="url(#gj3)"/><path d="M36 14.5C37.5 11 40.5 9.6 43.3 9.6C46.5 9.6 49.2 11 50.5 14.5C52 18.5 52 23 54 27C55.5 30 57.5 33 56.5 36C55 38 53 37.5 51.5 35L50 31H37L35 35C33.5 37.5 31.5 38 30.5 36C29.5 33 31.5 30 32.8 27C34.5 23 34.5 18.5 36 14.5Z" fill="#a57a4c"/><ellipse cx="43.3" cy="21.5" rx="5.6" ry="7.6" fill="#dfa88e"/><path d="M37 30C39.5 31.5 41.5 32 43.5 32C45.5 32 47.5 31.5 50 30L49.5 35H37.5Z" fill="#2d3550"/><path d="M28 50V77M59.5 48V77" stroke="#283049" stroke-width="1.6"/><path d="M32 77H56V88H32Z" fill="#404a66"/><path d="M24 77H32V88H24ZM56 77H64V88H56Z" fill="#262c40"/><ellipse cx="26.2" cy="81.5" rx="3" ry="2.8" fill="#a87660"/><ellipse cx="59.8" cy="81.5" rx="3" ry="2.8" fill="#a87660"/><rect x="31.5" y="43" width="5.5" height="2.6" fill="#8c96b8"/><rect x="49" y="38.5" width="4" height="2" fill="#a07a5a"/><rect x="48.5" y="43" width="5" height="2" fill="#66719a"/></g><circle cx="43.8" cy="43.8" r="43.0" fill="none" stroke="#4062b6" stroke-width="1.25"/></svg>
<svg class="r" style="left:7.00px;top:754.90px" width="19" height="18" viewBox="0 0 19 18"><path d="M9.5 1.2L11.8 6.5L17.7 6.9L13.2 10.6L14.6 16.4L9.5 13.3L4.4 16.4L5.8 10.6L1.3 6.9L7.2 6.5Z" fill="none" stroke="#2c53b5" stroke-width="1.3" stroke-linejoin="round"/></svg>
<div class="t" style="left:28.60px;top:757.60px;font-size:14.55px;color:#333;">Favorite Racer</div>
<svg class="r" style="left:8.20px;top:777.10px" width="16" height="16" viewBox="0 0 16 16"><circle cx="8" cy="8" r="7.7" fill="#3c3d48"/><path d="M8 4.3V11.7M4.3 8H11.7" stroke="#e6e6e6" stroke-width="1.9"/></svg>
<div class="t" style="left:29.50px;top:779.30px;font-size:14.55px;color:#333;">Athlete Biography</div>
<svg class="r" style="left:7.20px;top:797.70px" width="37" height="19" viewBox="0 0 37 19"><rect x="0.5" y="0.5" width="36" height="18" rx="9" fill="#1b951b"/><circle cx="27.5" cy="9.5" r="8.3" fill="#fff"/><path d="M5.5 9.8L8.6 12.8L14.2 6.6" fill="none" stroke="#fff" stroke-width="2.3" stroke-linecap="round" stroke-linejoin="round"/></svg>
<div class="t" style="left:47.00px;top:801.10px;font-size:14.55px;color:#333;">Difference from the race leader</div>
<div class="t" style="left:121.40px;width:300px;text-align:right;top:678.70px;font-size:12.8px;font-weight:bold;color:#fff;">Time</div>
<div class="t" style="left:237.90px;width:300px;text-align:right;top:678.70px;font-size:12.8px;font-weight:bold;color:#fff;">Diff</div>
<div class="t" style="left:451.50px;width:300px;text-align:center;top:678.70px;font-size:12.8px;font-weight:bold;color:#fff;">Rank</div>
<div class="t" style="left:482.50px;width:300px;text-align:right;top:678.70px;font-size:12.8px;font-weight:bold;color:#fff;">Sector</div>
<div class="t" style="left:598.70px;width:300px;text-align:right;top:678.70px;font-size:12.8px;font-weight:bold;color:#fff;">Diff</div>
<div class="t" style="left:812.50px;width:300px;text-align:center;top:678.70px;font-size:12.8px;font-weight:bold;color:#fff;">Rank</div>
<div class="r" style="left:314.50px;top:695.70px;width:340.00px;height:24.80px;background:#f4f4f4;"></div>
<div class="r" style="left:659.00px;top:695.70px;width:359.70px;height:24.80px;background:#f4f4f4;"></div>
<div class="r" style="left:428.90px;top:695.70px;width:1.00px;height:24.80px;background:#e8e8e8;"></div>
<div class="r" style="left:545.00px;top:695.70px;width:1.00px;height:24.80px;background:#e8e8e8;"></div>
<div class="r" style="left:790.00px;top:695.70px;width:1.00px;height:24.80px;background:#e8e8e8;"></div>
<div class="r" style="left:906.00px;top:695.70px;width:1.00px;height:24.80px;background:#e8e8e8;"></div>
<div class="t" style="left:121.00px;width:300px;text-align:right;top:700.60px;font-size:12.8px;color:#333;">14.94</div>
<div class="t" style="left:237.60px;width:300px;text-align:right;top:700.60px;font-size:12.8px;color:#e0262b;">+0.31</div>
<div class="t" style="left:450.00px;width:300px;text-align:center;top:700.60px;font-size:12.8px;color:#333;">4</div>
<div class="t" style="left:482.50px;width:300px;text-align:right;top:700.60px;font-size:12.8px;color:#333;">14.94</div>
<div class="t" style="left:598.70px;width:300px;text-align:right;top:700.60px;font-size:12.8px;color:#e0262b;">+0.31</div>
<div class="t" style="left:812.00px;width:300px;text-align:center;top:700.60px;font-size:12.8px;color:#333;">4</div>
<div class="r" style="left:427.50px;top:714.50px;width:1.71px;height:3.00px;background:#e0262b;"></div>
<div class="r" style="left:788.79px;top:714.50px;width:1.71px;height:3.00px;background:#e0262b;"></div>
<div class="r" style="left:314.50px;top:720.50px;width:340.00px;height:25.00px;background:#fcfcfc;"></div>
<div class="r" style="left:659.00px;top:720.50px;width:359.70px;height:25.00px;background:#fcfcfc;"></div>
<div class="r" style="left:314.50px;top:720.00px;width:340.00px;height:1.00px;background:#e2e2e2;"></div>
<div class="r" style="left:659.00px;top:720.00px;width:359.70px;height:1.00px;background:#e2e2e2;"></div>
<div class="r" style="left:428.90px;top:720.50px;width:1.00px;height:25.00px;background:#e8e8e8;"></div>
<div class="r" style="left:545.00px;top:720.50px;width:1.00px;height:25.00px;background:#e8e8e8;"></div>
<div class="r" style="left:790.00px;top:720.50px;width:1.00px;height:25.00px;background:#e8e8e8;"></div>
<div class="r" style="left:906.00px;top:720.50px;width:1.00px;height:25.00px;background:#e8e8e8;"></div>
<div class="t" style="left:121.00px;width:300px;text-align:right;top:725.40px;font-size:12.8px;color:#333;">34.43</div>
<div class="t" style="left:237.60px;width:300px;text-align:right;top:725.40px;font-size:12.8px;color:#e0262b;">+1.06</div>
<div class="t" style="left:450.00px;width:300px;text-align:center;top:725.40px;font-size:12.8px;color:#333;">4</div>
<div class="t" style="left:482.50px;width:300px;text-align:right;top:725.40px;font-size:12.8px;color:#333;">19.49</div>
<div class="t" style="left:598.70px;width:300px;text-align:right;top:725.40px;font-size:12.8px;color:#e0262b;">+0.75</div>
<div class="t" style="left:812.00px;width:300px;text-align:center;top:725.40px;font-size:12.8px;color:#333;">5</div>
<div class="r" style="left:423.37px;top:739.50px;width:5.83px;height:3.00px;background:#e0262b;"></div>
<div class="r" style="left:786.38px;top:739.50px;width:4.12px;height:3.00px;background:#e0262b;"></div>
<div class="r" style="left:314.50px;top:745.50px;width:340.00px;height:25.00px;background:#f4f4f4;"></div>
<div class="r" style="left:659.00px;top:745.50px;width:359.70px;height:25.00px;background:#f4f4f4;"></div>
<div class="r" style="left:314.50px;top:745.00px;width:340.00px;height:1.00px;background:#e2e2e2;"></div>
<div class="r" style="left:659.00px;top:745.00px;width:359.70px;height:1.00px;background:#e2e2e2;"></div>
<div class="r" style="left:428.90px;top:745.50px;width:1.00px;height:25.00px;background:#e8e8e8;"></div>
<div class="r" style="left:545.00px;top:745.50px;width:1.00px;height:25.00px;background:#e8e8e8;"></div>
<div class="r" style="left:790.00px;top:745.50px;width:1.00px;height:25.00px;background:#e8e8e8;"></div>
<div class="r" style="left:906.00px;top:745.50px;width:1.00px;height:25.00px;background:#e8e8e8;"></div>
<div class="t" style="left:121.00px;width:300px;text-align:right;top:750.10px;font-size:12.8px;color:#333;">44.59</div>
<div class="t" style="left:237.60px;width:300px;text-align:right;top:750.10px;font-size:12.8px;color:#e0262b;">+1.14</div>
<div class="t" style="left:450.00px;width:300px;text-align:center;top:750.10px;font-size:12.8px;color:#333;">4</div>
<div class="t" style="left:482.50px;width:300px;text-align:right;top:750.10px;font-size:12.8px;color:#333;">10.16</div>
<div class="t" style="left:598.70px;width:300px;text-align:right;top:750.10px;font-size:12.8px;color:#e0262b;">+0.08</div>
<div class="t" style="left:812.00px;width:300px;text-align:center;top:750.10px;font-size:12.8px;color:#333;">7</div>
<div class="r" style="left:423.20px;top:764.50px;width:6.00px;height:3.00px;background:#e0262b;"></div>
<div class="r" style="left:789.30px;top:764.50px;width:1.20px;height:3.00px;background:#e0262b;"></div>
<div class="r" style="left:314.50px;top:770.50px;width:340.00px;height:27.50px;background:#fcfcfc;"></div>
<div class="r" style="left:659.00px;top:770.50px;width:359.70px;height:27.50px;background:#fcfcfc;"></div>
<div class="r" style="left:314.50px;top:770.00px;width:340.00px;height:1.00px;background:#e2e2e2;"></div>
<div class="r" style="left:659.00px;top:770.00px;width:359.70px;height:1.00px;background:#e2e2e2;"></div>
<div class="r" style="left:428.90px;top:770.50px;width:1.00px;height:27.50px;background:#e8e8e8;"></div>
<div class="r" style="left:545.00px;top:770.50px;width:1.00px;height:27.50px;background:#e8e8e8;"></div>
<div class="r" style="left:790.00px;top:770.50px;width:1.00px;height:27.50px;background:#e8e8e8;"></div>
<div class="r" style="left:906.00px;top:770.50px;width:1.00px;height:27.50px;background:#e8e8e8;"></div>
<div class="t" style="left:121.00px;width:300px;text-align:right;top:775.30px;font-size:12.8px;color:#333;">56.87</div>
<div class="t" style="left:237.60px;width:300px;text-align:right;top:775.30px;font-size:12.8px;color:#e0262b;">+1.63</div>
<div class="t" style="left:450.00px;width:300px;text-align:center;top:775.30px;font-size:12.8px;color:#333;">4</div>
<div class="t" style="left:482.50px;width:300px;text-align:right;top:775.30px;font-size:12.8px;color:#333;">12.28</div>
<div class="t" style="left:598.70px;width:300px;text-align:right;top:775.30px;font-size:12.8px;color:#e0262b;">+0.49</div>
<div class="t" style="left:812.00px;width:300px;text-align:center;top:775.30px;font-size:12.8px;color:#333;">9</div>
<div class="r" style="left:423.20px;top:792.00px;width:6.00px;height:3.00px;background:#e0262b;"></div>
<div class="r" style="left:787.80px;top:792.00px;width:2.69px;height:3.00px;background:#e0262b;"></div>
<div class="r" style="left:654.50px;top:695.70px;width:4.50px;height:102.30px;background:#e6e6e6;"></div>
<svg class="r" style="left:277.90px;top:696.40px" width="24" height="22" viewBox="0 0 24 22"><rect x="6.7" y="1.4" width="4.8" height="2" fill="#fff"/><circle cx="9" cy="11" r="7.1" fill="#fff"/><rect x="7.9" y="7.1" width="2.2" height="5.1" rx=".6" fill="#a6a6a6"/><path d="M12.8 5.6L15.6 4.4L14.8 7.6Z" fill="#fff"/><path d="M19.4 12.6H21.2V20.5H19.3V15.2H17.2V13.9C18.4 13.9 19.1 13.4 19.4 12.6Z" fill="#fff"/></svg>
<svg class="r" style="left:277.90px;top:721.20px" width="24" height="22" viewBox="0 0 24 22"><rect x="6.7" y="1.4" width="4.8" height="2" fill="#fff"/><circle cx="9" cy="11" r="7.1" fill="#fff"/><rect x="7.9" y="7.1" width="2.2" height="5.1" rx=".6" fill="#a6a6a6"/><path d="M12.8 5.6L15.6 4.4L14.8 7.6Z" fill="#fff"/></svg>
<div class="t" style="left:294.90px;top:733.80px;font-size:10.4px;font-weight:bold;color:#fff;-webkit-text-stroke:0.35px #fff">2</div>
<svg class="r" style="left:277.90px;top:745.80px" width="24" height="22" viewBox="0 0 24 22"><rect x="6.7" y="1.4" width="4.8" height="2" fill="#fff"/><circle cx="9" cy="11" r="7.1" fill="#fff"/><rect x="7.9" y="7.1" width="2.2" height="5.1" rx=".6" fill="#a6a6a6"/><path d="M12.8 5.6L15.6 4.4L14.8 7.6Z" fill="#fff"/></svg>
<div class="t" style="left:294.90px;top:758.40px;font-size:10.4px;font-weight:bold;color:#fff;-webkit-text-stroke:0.35px #fff">3</div>
<svg class="r" style="left:280px;top:772.00px" width="20" height="20" viewBox="280 171.1 20 20"><path d="M282.6 174H291V175.9H296.3V185H289.9V183.3H284.8V189.9H282.6Z" fill="#fff"/></svg>
</body></html>
